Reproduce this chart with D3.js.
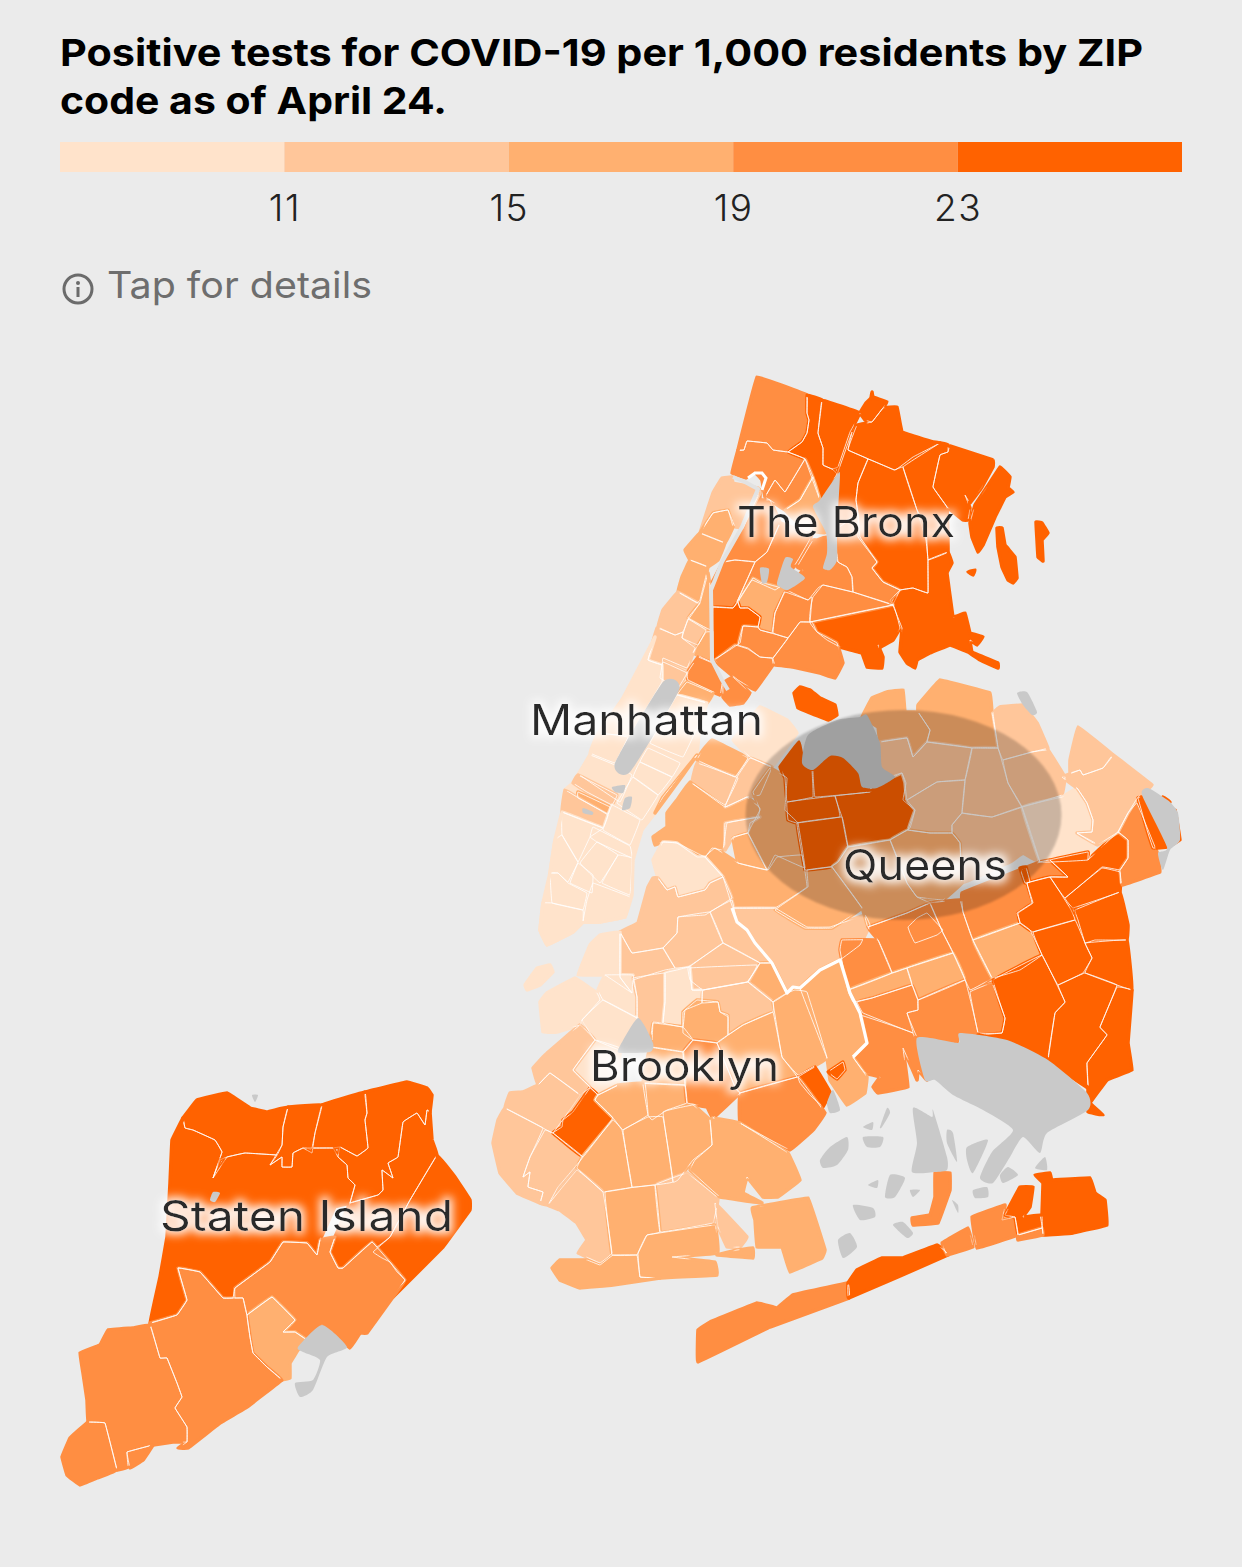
<!DOCTYPE html>
<html><head><meta charset="utf-8">
<script src="https://cdn.jsdelivr.net/npm/d3@7"></script>
<style>html,body{margin:0;background:#ebebeb}svg{display:block}</style></head>
<body><svg id="c" width="1242" height="1567"></svg>
<script>
const titleLines=["Positive tests for COVID-19 per 1,000 residents by ZIP","code as of April 24."];
const legendBreaks=[11,15,19,23];
const legendDomain=[7,27];
const legendColors=["#FFE3CB","#FFC69A","#FFB070","#FF8E42","#FF6200"];
const hintText="Tap for details";
const boroughNames=["The Bronx","Manhattan","Queens","Brooklyn","Staten Island"];
const boroughAnchors=["846,537","646.5,735","925,880","684.5,1081","306.5,1231"];
const noDataShapes=["837,475 840,475 837,530 837,560 830,570 823,568 827,553 826,533 813,507 820,500","760,568 769,569 767,582 762,583","785,558 793,559 791,567 805,578 788,590 780,587 777,583","663,682 679,690 630,772 615,763","612,787 625,785 623,793 615,792","625,798 632,797 630,808 622,810","583,808 593,812 592,815 583,813","802,763 808,735 837,720 860,717 867,715 880,743 882,767 895,777 877,788 862,787 858,773 843,758 830,756 813,770","1017,693 1027,692 1037,712 1032,715 1023,705","1142,795 1148,788 1163,797 1170,802 1178,813 1180,840 1170,850 1163,870 1158,853 1167,847","618,1050 638,1018 653,1043 650,1052 623,1053","827,1103 833,1090 840,1110 830,1113","917,1038 958,1043 960,1033 1007,1040 1048,1060 1087,1093 1088,1110 1047,1133 1040,1153 1023,1137 1010,1157 993,1183 980,1178 992,1152 1013,1130 983,1110 953,1095 935,1080 925,1080","820,1160 830,1147 847,1137 848,1150 837,1165 823,1168","863,1137 883,1137 880,1147 867,1147","880,1127 887,1108 890,1113 882,1127","863,1127 873,1122 872,1130","913,1108 932,1117 933,1110 947,1157 947,1170 935,1172 912,1172 917,1143","947,1130 953,1133 957,1162 947,1143","967,1147 988,1140 973,1173 967,1160","890,1175 905,1178 895,1197 885,1197","853,1205 873,1208 875,1217 860,1220","838,1240 850,1233 857,1247 843,1258","893,1225 903,1222 913,1233 907,1238","910,1190 920,1190 913,1197","868,1185 878,1180 877,1188","1035,1168 1045,1157 1047,1170","973,1190 987,1187 988,1197 975,1198","952,1200 958,1205 958,1213","1000,1175 1008,1167 1018,1175 1003,1183","322,1325 347,1347 327,1357 313,1390 300,1397 295,1383 313,1380 320,1360 303,1352 298,1347","252,1095 258,1095 255,1102","213,1192 220,1193 215,1202 210,1200"];

const bronxRates=[21,21,25,25,25,25,25,25,25,25,25,25,25,25,25,25,25,21,21,21,17,21,21,21,17,21,25,21,21,21,21,21];
const bronxShapes=["757,377 807,395 807,413 809,420 807,433 802,442 788,452 773,450 767,443 747,441 744,450 738,450",
"738,450 744,450 747,441 767,443 773,450 788,452 805,459 785,492 775,480 765,497 762,480 755,472 746,478 732,473",
"807,395 822,400 818,433 823,448 823,465 832,469 837,474 820,500 805,459 788,452 802,442 807,433 809,420 807,413",
"822,400 860,413 850,432 838,467 832,469 823,465 823,448 818,433",
"837,475 852,432 848,450 868,459 858,483 856,500 858,515 835,525",
"860,413 866,403 871,398 872,392 873,397 887,402 883,408 872,422 865,420",
"883,408 897,407 902,432 933,442 940,443 913,457 895,470 848,450 857,425 872,422",
"868,459 894,470 903,467 917,510 926,540 928,560 928,593 913,588 900,590 883,582 872,568 877,562 860,537 858,515 856,500 858,483",
"903,467 940,443 948,445 948,452 940,455 933,487 947,507 948,552 928,560 926,525 917,510",
"950,446 993,460 993,467 982,487 970,503 965,495 970,508 968,520 963,520 947,507 933,487 940,455 948,452",
"975,505 987,487 1000,467 1010,477 1008,488 1013,492 1005,497 995,517 983,545 978,552 972,537 970,523",
"997,528 1002,528 1005,545 1015,557 1017,578 1013,583 1008,580 1002,567 998,547",
"1036,522 1042,523 1048,533 1042,540 1043,561 1038,557 1037,540",
"948,552 952,563 947,573 953,617 965,613 970,633 983,637 977,645 970,640 972,652 998,663 998,668 980,660 968,652 950,645 930,653 917,660 915,668 907,663 900,652 902,628 893,605 900,590 913,588 928,593 928,560",
"810,622 893,605 900,628 893,640 881,647 878,645 883,657 882,668 867,667 862,653 840,647 827,640 817,632",
"968,572 975,570 973,575",
"794,693 800,687 810,690 820,698 835,705 837,715 828,720 810,713 798,708",
"813,597 823,585 853,592 893,605 810,622 811,605",
"858,537 877,562 872,568 883,582 900,590 890,600 893,605 853,592 852,577 847,567 838,562 835,530 858,515",
"805,459 813,477 800,500 785,510 770,500 765,497 775,480 785,492",
"813,477 820,500 813,507 826,533 805,530 785,510 800,500",
"760,500 770,500 780,523 767,552 755,562 735,560 723,562 743,528 760,490",
"723,562 735,560 755,562 737,602 733,608 713,607 710,587",
"780,523 812,535 798,560 782,585 775,590 752,580 737,602 755,562 767,552",
"738,602 753,578 760,582 778,587 785,590 775,613 772,633 760,630 758,627 760,617 748,608 740,608",
"817,540 826,537 838,562 847,567 852,577 853,592 823,585 818,588 808,600 787,590 803,570 797,567 813,540",
"713,607 733,608 738,602 740,608 748,608 760,617 758,627 743,626 740,643 713,660",
"743,626 758,627 760,630 788,638 773,658 760,657 748,648 738,645",
"735,645 748,649 760,657 772,658 773,665 755,690 738,680 723,668 715,660",
"773,658 788,638 800,622 812,622 817,632 837,643 843,663 835,678 820,673 793,667 775,665",
"723,683 733,677 750,693 743,703 730,705 723,697",
"785,592 808,600 812,597 810,622 800,622 788,638 773,633 775,613"];

const manhattanBaseRate=9;
const manhattanBase="648,662 712,662 722,683 707,703 700,722 697,755 683,775 655,813 642,830 633,860 632,895 625,917 600,922 583,922 573,932 547,945 540,930 543,903 550,873 555,840 562,812 565,790 573,783 590,755 622,700";
const manhattanRates=[13,17,17,17,13,17,13,17,13,21,13,17,9,9,9,9,9,13,17,13,9,9,9,9,9,9,9,9,9,9,9,9,17,9];
const manhattanShapes=["732,477 733,483 758,488 760,493 742,527 735,527 728,510 713,513 700,533 713,493 722,478",
"700,533 713,513 728,510 733,527 725,543",
"700,533 725,543 718,560 708,567 690,560 685,550",
"690,560 708,567 700,600 697,603 678,592 682,577",
"678,592 698,603 700,603 688,620 683,632 675,635 658,627 663,610",
"708,573 710,587 711,630 688,618 700,603",
"688,619 706,630 698,645 682,638",
"706,632 712,632 712,662 693,653 698,645",
"657,628 675,635 683,632 682,638 695,648 687,668 663,658 662,665 648,660",
"698,657 712,663 722,683 720,695 688,680 687,673",
"663,662 687,673 678,688 660,678",
"687,682 713,693 707,703 677,695",
"655,637 648,660 662,665 662,682 630,735 598,733 622,700",
"598,733 628,737 615,763 590,753",
"677,695 707,703 700,722 683,757 650,743",
"648,748 680,763 672,777 640,762",
"590,755 615,765 632,775 620,802 580,775",
"578,775 617,795 612,805 587,792 573,783",
"578,792 610,807 608,814 578,798",
"565,790 577,797 608,815 603,828 562,812",
"640,762 672,777 658,795 633,777",
"633,777 658,795 642,820 617,803",
"612,805 640,820 630,845 603,830",
"562,812 603,828 590,837 578,862 562,835",
"593,827 630,846 632,858 597,842 590,837",
"597,842 618,855 600,883 580,863",
"618,855 632,858 630,895 602,883",
"562,835 578,862 568,882 558,873 550,873 555,840",
"578,863 593,875 592,893 570,883",
"558,873 568,883 587,893 583,910 552,903 550,873",
"593,883 630,897 625,917 600,922 583,922 587,900",
"543,903 552,903 583,910 583,922 573,932 547,945 540,930",
"697,755 683,775 655,813 663,797 693,760",
"525,985 537,968 550,965 553,972 540,985 527,990"];

const queensRates=[17,9,13,17,13,17,13,17,17,13,17,25,25,25,25,25,17,17,13,13,13,13,13,13,9,17,17,21,25,21,21,21,21,17,17,17,21,21,21,25,25,25,25,25,25,25,25,25,21,13,13,25,21,21,21,25,21,21,25,25,21];
const queensShapes=["703,750 712,740 748,758 735,777 697,760",
"733,740 760,707 787,720 797,733 772,767 750,757",
"697,763 738,778 725,805 692,783",
"690,782 725,807 747,797 760,808 758,817 727,823 723,850 712,848 705,857 677,843 663,842 655,845 653,837 667,827 667,813 677,800",
"737,777 750,758 772,767 760,795 747,797 725,807",
"753,792 770,768 787,778 785,810 798,823 805,868 775,855 767,870 748,833 760,810",
"725,823 760,817 750,823 748,833 733,837 725,850",
"733,838 748,833 767,870 738,863",
"705,857 715,848 738,863 768,870 777,857 802,855 807,887 775,908 733,908 723,877",
"733,908 775,908 807,927 830,927 865,915 870,925 860,945 840,960 820,970 800,988 793,987 787,993 772,963 755,943 747,930 737,922",
"807,870 832,867 862,908 832,928 805,928 775,910 808,887",
"780,767 799,742 804,768 812,770 813,797 787,802 785,778",
"813,770 830,756 843,758 858,773 870,792 815,797",
"835,796 870,792 875,788 895,775 902,773 906,783 903,800 915,810 910,828 890,840 848,847 842,817",
"787,802 835,796 840,817 797,823 788,820",
"797,823 842,817 848,847 838,862 830,867 805,870",
"862,717 872,698 887,692 903,690 905,712 918,712 930,730 927,742 913,757 907,738 880,742 878,727",
"918,705 940,680 990,693 992,713 998,748 972,748 927,742 930,730 918,712",
"993,713 1000,707 1023,705 1037,723 1048,748 1032,752 1003,760 998,748",
"1003,760 1032,752 1048,750 1065,777 1062,795 1022,807 1008,783",
"880,742 907,738 913,757 927,742 972,748 965,780 937,782 907,800 905,783 902,773 893,777 882,767",
"907,800 937,782 965,780 962,813 952,825 952,833 930,833 908,830 915,810",
"972,748 998,748 1008,783 1022,807 992,817 962,813 965,780",
"952,825 962,813 992,817 1022,807 1040,862 1023,853 1010,862 962,883 960,843 952,833",
"1022,807 1062,797 1077,788 1087,803 1093,820 1092,832 1077,833 1095,843 1088,860 1040,862",
"890,840 908,830 930,833 952,833 960,843 962,883 943,900 917,897 907,883",
"848,847 890,840 907,883 917,897 930,903 907,913 868,927 865,917 862,908 832,867 838,862",
"962,893 1040,862 1050,860 1068,877 1050,877 1027,883 1032,903 1017,913 1020,923 973,940 963,912",
"1020,868 1026,867 1030,882 1025,883",
"840,950 842,940 878,940 892,973 848,990",
"868,927 907,913 930,903 943,933 953,953 907,968 892,973 878,940",
"908,927 917,918 927,913 943,930 937,935 915,943 910,933",
"930,903 960,900 963,912 973,940 992,978 970,990 953,953 943,933",
"973,940 1020,923 1030,930 1042,955 1020,970 992,978",
"907,968 953,953 965,980 918,1000",
"848,990 892,973 907,968 912,985 872,998 853,1002",
"857,1002 872,998 912,985 918,1000 918,1010 907,1013 913,1033 863,1013",
"918,1000 965,980 978,1033 958,1035 957,1043 917,1037 907,1013 918,1010",
"970,992 992,983 1005,1018 1002,1033 978,1033",
"993,980 1042,955 1065,1002 1055,1013 1048,1060 1045,1057 1007,1040 978,1035 1002,1033 1005,1018",
"1058,985 1085,973 1117,985 1100,1027 1107,1035 1087,1063 1088,1088 1048,1060 1055,1013 1065,1002",
"1117,987 1132,990 1128,1043 1132,1070 1107,1080 1090,1103 1103,1115 1088,1112 1088,1088 1087,1063 1107,1035 1100,1027",
"1033,932 1075,920 1085,943 1092,958 1083,973 1058,985 1042,955",
"1085,943 1127,940 1132,990 1085,973 1092,958",
"1018,913 1033,903 1027,883 1050,877 1070,908 1075,920 1033,932 1020,923",
"1050,860 1088,852 1088,860 1118,832 1128,840 1128,858 1120,870 1102,867 1065,898 1050,877 1068,877",
"1065,898 1102,868 1120,872 1120,892 1073,908",
"1075,910 1120,892 1128,925 1127,940 1095,940 1085,943 1078,920",
"1118,832 1128,840 1128,858 1120,870 1122,885 1160,872 1157,852 1137,803 1128,813",
"1062,777 1080,770 1083,775 1103,768 1113,755 1152,785 1138,797 1128,813 1118,832 1097,845 1077,833 1092,832 1093,820 1087,803 1077,788",
"1070,760 1078,727 1113,755 1103,768 1083,775 1080,770 1070,773",
"1138,798 1142,797 1155,807 1163,797 1170,802 1163,812 1175,810 1180,840 1167,847 1153,848 1147,830",
"860,1015 913,1033 927,1080 918,1070 917,1080 903,1048 908,1087 878,1093 873,1087 880,1077 865,1073 853,1057 867,1043",
"935,1173 950,1173 950,1190 938,1223 913,1225 912,1218 930,1215 935,1197",
"698,1330 710,1322 757,1303 777,1308 793,1295 848,1283 849,1298 770,1327 698,1362",
"848,1283 857,1270 882,1258 903,1258 937,1245 948,1255 849,1298",
"942,1243 968,1228 973,1247 947,1255",
"972,1217 1005,1205 1002,1220 1015,1217 1018,1235 977,1248",
"1020,1187 1033,1187 1030,1207 1023,1217 1040,1215 1042,1228 1018,1235 1015,1217 1005,1215",
"1035,1175 1050,1173 1052,1180 1090,1178 1095,1193 1105,1200 1107,1225 1073,1233 1043,1235 1042,1215 1043,1183",
"1018,1235 1042,1228 1043,1235 1018,1240"];

const brooklynRates=[9,13,13,13,13,17,13,9,9,13,9,9,13,9,13,9,17,17,17,17,25,25,21,13,13,13,13,25,17,17,17,21,17,17,17,17,13,13,17,17,17,13,17,17,17];
const brooklynShapes=["653,860 663,842 677,843 697,857 705,857 723,877 710,883 705,890 678,897 675,887 667,890 658,878",
"653,878 658,878 667,890 675,887 678,897 705,890 710,883 723,877 732,898 710,912 705,915 678,917 677,933 663,948 632,953 620,932 638,923 648,887",
"710,912 732,900 737,922 747,930 755,943 772,963 760,963 723,943",
"678,917 710,912 723,943 688,967 675,968 663,948 677,933",
"688,968 723,943 760,963 747,982 703,990 690,980",
"748,982 760,963 772,963 787,993 773,1002",
"620,932 632,953 663,948 675,968 665,970 633,980 632,993 620,977",
"540,1002 547,993 575,978 597,993 600,1000 582,1020 580,1025 557,1032 543,1032",
"598,990 605,975 633,975 637,997 637,1018 603,1000",
"633,978 665,973 665,1002 663,1023 653,1022 652,1040 637,1018 637,997",
"578,975 590,945 600,935 620,932 620,977 632,993 605,975",
"582,1020 603,1000 637,1018 620,1050 595,1040",
"690,968 757,965 748,982 703,990 692,990",
"665,973 677,970 690,967 692,990 702,990 702,1003 685,1010 683,1027 663,1023 665,1002",
"703,990 748,982 773,1002 773,1012 743,1025 728,1035 728,1017 720,1012 718,1002 702,1003",
"573,1070 595,1040 620,1048 618,1085 598,1095 590,1087",
"683,1012 697,1000 718,1002 720,1012 728,1015 728,1035 717,1043 693,1040 683,1033",
"728,1035 743,1025 773,1012 782,1057 797,1077 740,1093 735,1087 717,1043",
"773,1002 787,993 795,990 807,992 827,1058 798,1075 782,1057",
"800,988 820,970 840,960 850,993 860,1013 867,1043 853,1057 867,1077 865,1093 847,1105 830,1080 827,1058",
"798,1077 815,1067 830,1092 823,1107 810,1095 800,1083",
"828,1072 843,1062 845,1070 837,1079",
"740,1093 798,1077 825,1113 813,1130 790,1150 740,1123",
"505,1108 543,1128 530,1157 523,1177 530,1172 528,1187 543,1192 540,1203 517,1193 500,1173 493,1143 498,1120",
"545,1130 553,1133 583,1157 558,1187 548,1205 540,1203 543,1192 528,1187 530,1172 523,1177 530,1157",
"505,1108 510,1093 523,1092 538,1085 550,1073 580,1095 553,1133 543,1128",
"533,1068 545,1055 580,1025 595,1040 573,1070 590,1087 580,1095 550,1073 538,1085",
"553,1133 562,1127 563,1120 573,1112 590,1088 598,1095 595,1100 613,1118 583,1157",
"598,1095 618,1085 645,1083 648,1115 623,1130 613,1118 595,1100",
"643,1083 685,1085 687,1103 667,1110 652,1120 648,1115",
"653,1023 683,1027 693,1040 683,1052 650,1047",
"683,1052 693,1040 717,1043 735,1087 740,1093 713,1118 707,1107 687,1103 685,1085",
"650,1047 683,1052 685,1085 643,1083",
"582,1157 613,1120 622,1130 632,1187 603,1192 577,1168",
"623,1130 648,1117 663,1117 673,1182 632,1187",
"663,1112 693,1105 710,1120 712,1145 693,1160 687,1168 678,1180 673,1182",
"655,1185 687,1173 718,1198 713,1223 660,1232",
"548,1205 577,1170 603,1192 612,1253 600,1263 578,1253 587,1240 577,1223 560,1210",
"605,1192 655,1185 660,1232 647,1235 637,1255 612,1255",
"647,1235 715,1225 718,1253 672,1257 715,1262 717,1275 660,1278 640,1277 638,1253",
"552,1268 560,1260 587,1260 600,1265 613,1255 637,1255 640,1277 660,1278 613,1285 580,1288 560,1280",
"715,1203 747,1237 740,1247 727,1247 718,1227",
"737,1250 753,1248 753,1258 717,1255",
"752,1208 808,1198 825,1250 822,1258 790,1272 782,1247 757,1247 755,1220",
"713,1118 740,1123 788,1153 800,1180 778,1197 763,1197 747,1177 743,1193 762,1203 720,1197 690,1170 695,1160 712,1145 710,1120"];

const statenRates=[25,25,25,25,25,25,25,21,17,21,21,21,21];
const statenShapes=["183,1118 197,1100 227,1093 250,1108 267,1112 288,1107 283,1127 282,1145 277,1155 245,1153 227,1157 220,1160 213,1178 222,1152 215,1140 193,1130 185,1128",
"183,1118 185,1128 193,1130 215,1140 222,1152 213,1178 227,1157 245,1153 277,1155 270,1165 282,1157 282,1167 292,1167 293,1153 303,1148 312,1153 313,1148 333,1148 338,1157 347,1165 348,1178 355,1185 350,1203 335,1207 320,1240 317,1255 307,1243 283,1242 270,1262 235,1288 233,1298 223,1298 200,1272 178,1268 187,1300 177,1315 150,1323 160,1277 167,1237 170,1183 172,1140",
"288,1107 322,1105 315,1133 312,1148 303,1148 293,1153 292,1167 282,1167 282,1157 270,1165 282,1145 283,1127",
"322,1105 365,1092 367,1113 365,1120 368,1148 357,1156 340,1147 333,1148 313,1148 315,1133",
"365,1092 407,1082 427,1088 432,1095 430,1112 427,1110 425,1125 417,1113 403,1122 398,1157 388,1163 393,1178 382,1170 383,1190 378,1195 350,1203 355,1185 348,1178 347,1165 338,1157 340,1147 357,1156 368,1148 365,1120 367,1113",
"430,1112 432,1140 437,1155 410,1200 390,1237 377,1247 372,1242 343,1268 338,1268 330,1252 335,1237 350,1203 378,1195 383,1190 382,1170 393,1178 388,1163 398,1157 403,1122 417,1113 425,1125 427,1110",
"437,1155 455,1177 470,1200 470,1210 443,1247 393,1297 405,1280 397,1272 390,1262 382,1258 373,1252 390,1237 410,1200",
"235,1288 270,1262 283,1242 307,1243 317,1255 320,1240 335,1237 330,1252 338,1268 343,1268 372,1242 405,1280 393,1297 367,1333 360,1333 350,1348 322,1325 307,1340 295,1332 283,1332 295,1320 272,1297 247,1315 243,1298 235,1298",
"247,1315 272,1297 295,1320 283,1332 295,1332 307,1340 298,1350 290,1363 290,1378 282,1380 267,1367 253,1353 250,1337",
"150,1323 177,1315 187,1300 178,1268 200,1272 223,1298 243,1298 247,1315 250,1337 253,1353 267,1367 282,1380 247,1407 220,1423 188,1448 178,1448 187,1442 187,1427 175,1408 182,1397 177,1383 167,1358 160,1358 152,1330",
"80,1353 100,1345 108,1330 133,1328 150,1325 160,1358 167,1358 177,1383 182,1397 175,1408 187,1427 187,1442 173,1442 153,1445 127,1452 128,1467 117,1470 105,1423 88,1422 87,1400 83,1373",
"127,1452 153,1445 143,1460 130,1468",
"88,1422 105,1423 117,1470 97,1478 80,1485 67,1475 62,1457 70,1438"];
const boroughBorder="732,908 737,922 747,930 755,943 772,963 787,993 793,987 800,988 820,970 840,960 850,993 860,1013 867,1043 853,1057";
const marbleLoop="748,478 755,473 762,473 766,478 762,490";
const harlemRiver="733,477 745,482 758,489 742,527 722,562 711,590 712,660 722,680 728,690";
const shadeCentre=[903.5,815], shadeRadii=[158,105];

const ring=s=>s.split(" ").map(p=>p.split(",").map(Number));
const svg=d3.select("#c");
const color=d3.scaleThreshold().domain(legendBreaks).range(legendColors);
const area=d3.line().curve(d3.curveCardinalClosed.tension(.9));
const blob=d3.line().curve(d3.curveCardinalClosed.tension(.4));
const ln=d3.line();
const defs=svg.append("defs");
const glow=defs.append("filter").attr("id","glow").attr("x","-20%").attr("y","-40%").attr("width","140%").attr("height","180%");
glow.append("feMorphology").attr("in","SourceAlpha").attr("operator","dilate").attr("radius",3).attr("result","d");
glow.append("feGaussianBlur").attr("in","d").attr("stdDeviation",5).attr("result","b");
glow.append("feFlood").attr("flood-color","#fff").attr("flood-opacity",.95);
glow.append("feComposite").attr("in2","b").attr("operator","in").attr("result","g");
const fm=glow.append("feMerge");fm.append("feMergeNode").attr("in","g");fm.append("feMergeNode").attr("in","SourceGraphic");
defs.append("filter").attr("id","soft").append("feGaussianBlur").attr("stdDeviation",1.2);
defs.append("filter").attr("id","erode").attr("filterUnits","userSpaceOnUse").attr("x",0).attr("y",0).attr("width",1242).attr("height",1567)
 .append("feMorphology").attr("operator","erode").attr("radius",3);

svg.append("rect").attr("width",1242).attr("height",1567).attr("fill","#ebebeb");
const titleWidths=[1083,387];
svg.append("g").selectAll("text").data(titleLines).join("text")
 .attr("x",60).attr("y",(d,i)=>66+i*48).attr("font-family","Inter").attr("font-weight",700).attr("font-size",37.5).attr("fill","#000")
 .attr("textLength",(d,i)=>titleWidths[i]).attr("lengthAdjust","spacingAndGlyphs").text(d=>d);

const lx=d3.scaleLinear().domain(legendDomain).range([60,1182]);
const edges=[legendDomain[0],...legendBreaks,legendDomain[1]];
svg.append("g").selectAll("rect").data(legendColors).join("rect")
 .attr("x",(d,i)=>lx(edges[i])).attr("width",(d,i)=>lx(edges[i+1])-lx(edges[i])).attr("y",142).attr("height",30).attr("fill",d=>d);
const ax=svg.append("g").attr("transform","translate(0,172)").call(d3.axisBottom(lx).tickValues(legendBreaks).tickSize(0).tickPadding(23));
ax.select(".domain").remove();
ax.selectAll("text").attr("font-family","Inter").attr("font-weight",300).attr("font-size",37).attr("letter-spacing",1.5).attr("fill","#222");

const ic=svg.append("g").attr("transform","translate(78,289)");
ic.append("circle").attr("r",14).attr("fill","none").attr("stroke","#6b6b6b").attr("stroke-width",3);
ic.append("circle").attr("cy",-6).attr("r",2).attr("fill","#6b6b6b");
ic.append("rect").attr("x",-1.5).attr("y",-2).attr("width",3).attr("height",10).attr("fill","#6b6b6b");
svg.append("text").attr("x",107).attr("y",298).attr("font-family","Inter").attr("font-size",37).attr("fill","#6e6e6e")
 .attr("textLength",265).attr("lengthAdjust","spacingAndGlyphs").text(hintText);

const groups=[[bronxShapes,bronxRates],[manhattanShapes,manhattanRates],[queensShapes,queensRates],[brooklynShapes,brooklynRates],[statenShapes,statenRates]];
const rows=[];
groups.forEach(([shapes,rates])=>shapes.forEach((s,i)=>rows.push({r:ring(s),v:rates[i]})));
const fills=[{r:ring(manhattanBase),v:manhattanBaseRate},...rows];
const mask=defs.append("mask").attr("id","land").attr("maskUnits","userSpaceOnUse").attr("x",0).attr("y",0).attr("width",1242).attr("height",1567);
mask.append("g").attr("filter","url(#erode)").selectAll("path").data(fills).join("path").attr("d",d=>area(d.r)).attr("fill","#fff").attr("stroke","#fff").attr("stroke-width",3.5).attr("stroke-linejoin","round");

const map=svg.append("g");
map.append("g").selectAll("path").data(fills).join("path").attr("d",d=>area(d.r)).attr("fill",d=>color(d.v)).attr("stroke",d=>color(d.v)).attr("stroke-width",3.5).attr("stroke-linejoin","round");
map.append("g").attr("mask","url(#land)").selectAll("path").data(rows).join("path").attr("d",d=>area(d.r)).attr("fill","none").attr("stroke","#fff").attr("stroke-opacity",.8).attr("stroke-width",1).attr("stroke-linejoin","round");
map.append("path").attr("d",ln(ring(harlemRiver))).attr("fill","none").attr("stroke","#e2e2e2").attr("stroke-width",4).attr("stroke-linejoin","round");
map.append("g").selectAll("path").data(noDataShapes.map(ring)).join("path").attr("d",d=>blob(d)).attr("fill","#c9c9c9");
map.append("path").attr("d",ln(ring(boroughBorder))).attr("fill","none").attr("stroke","#fff").attr("stroke-width",3.2).attr("stroke-linejoin","round");
map.append("path").attr("d",ln(ring(marbleLoop))).attr("fill","none").attr("stroke","#fff").attr("stroke-width",3);
svg.append("ellipse").attr("cx",shadeCentre[0]).attr("cy",shadeCentre[1]).attr("rx",shadeRadii[0]).attr("ry",shadeRadii[1]).attr("fill","#000").attr("opacity",.2).attr("filter","url(#soft)");
const labelWidths=[218,233,164,189,293];
svg.append("g").selectAll("text").data(boroughNames).join("text")
 .attr("x",(d,i)=>+boroughAnchors[i].split(",")[0]).attr("y",(d,i)=>+boroughAnchors[i].split(",")[1])
 .attr("text-anchor","middle").attr("font-family","Inter").attr("font-size",42).attr("fill","#2b2b2b").attr("filter","url(#glow)")
 .attr("textLength",(d,i)=>labelWidths[i]).attr("lengthAdjust","spacingAndGlyphs").text(d=>d);
</script></body></html>
